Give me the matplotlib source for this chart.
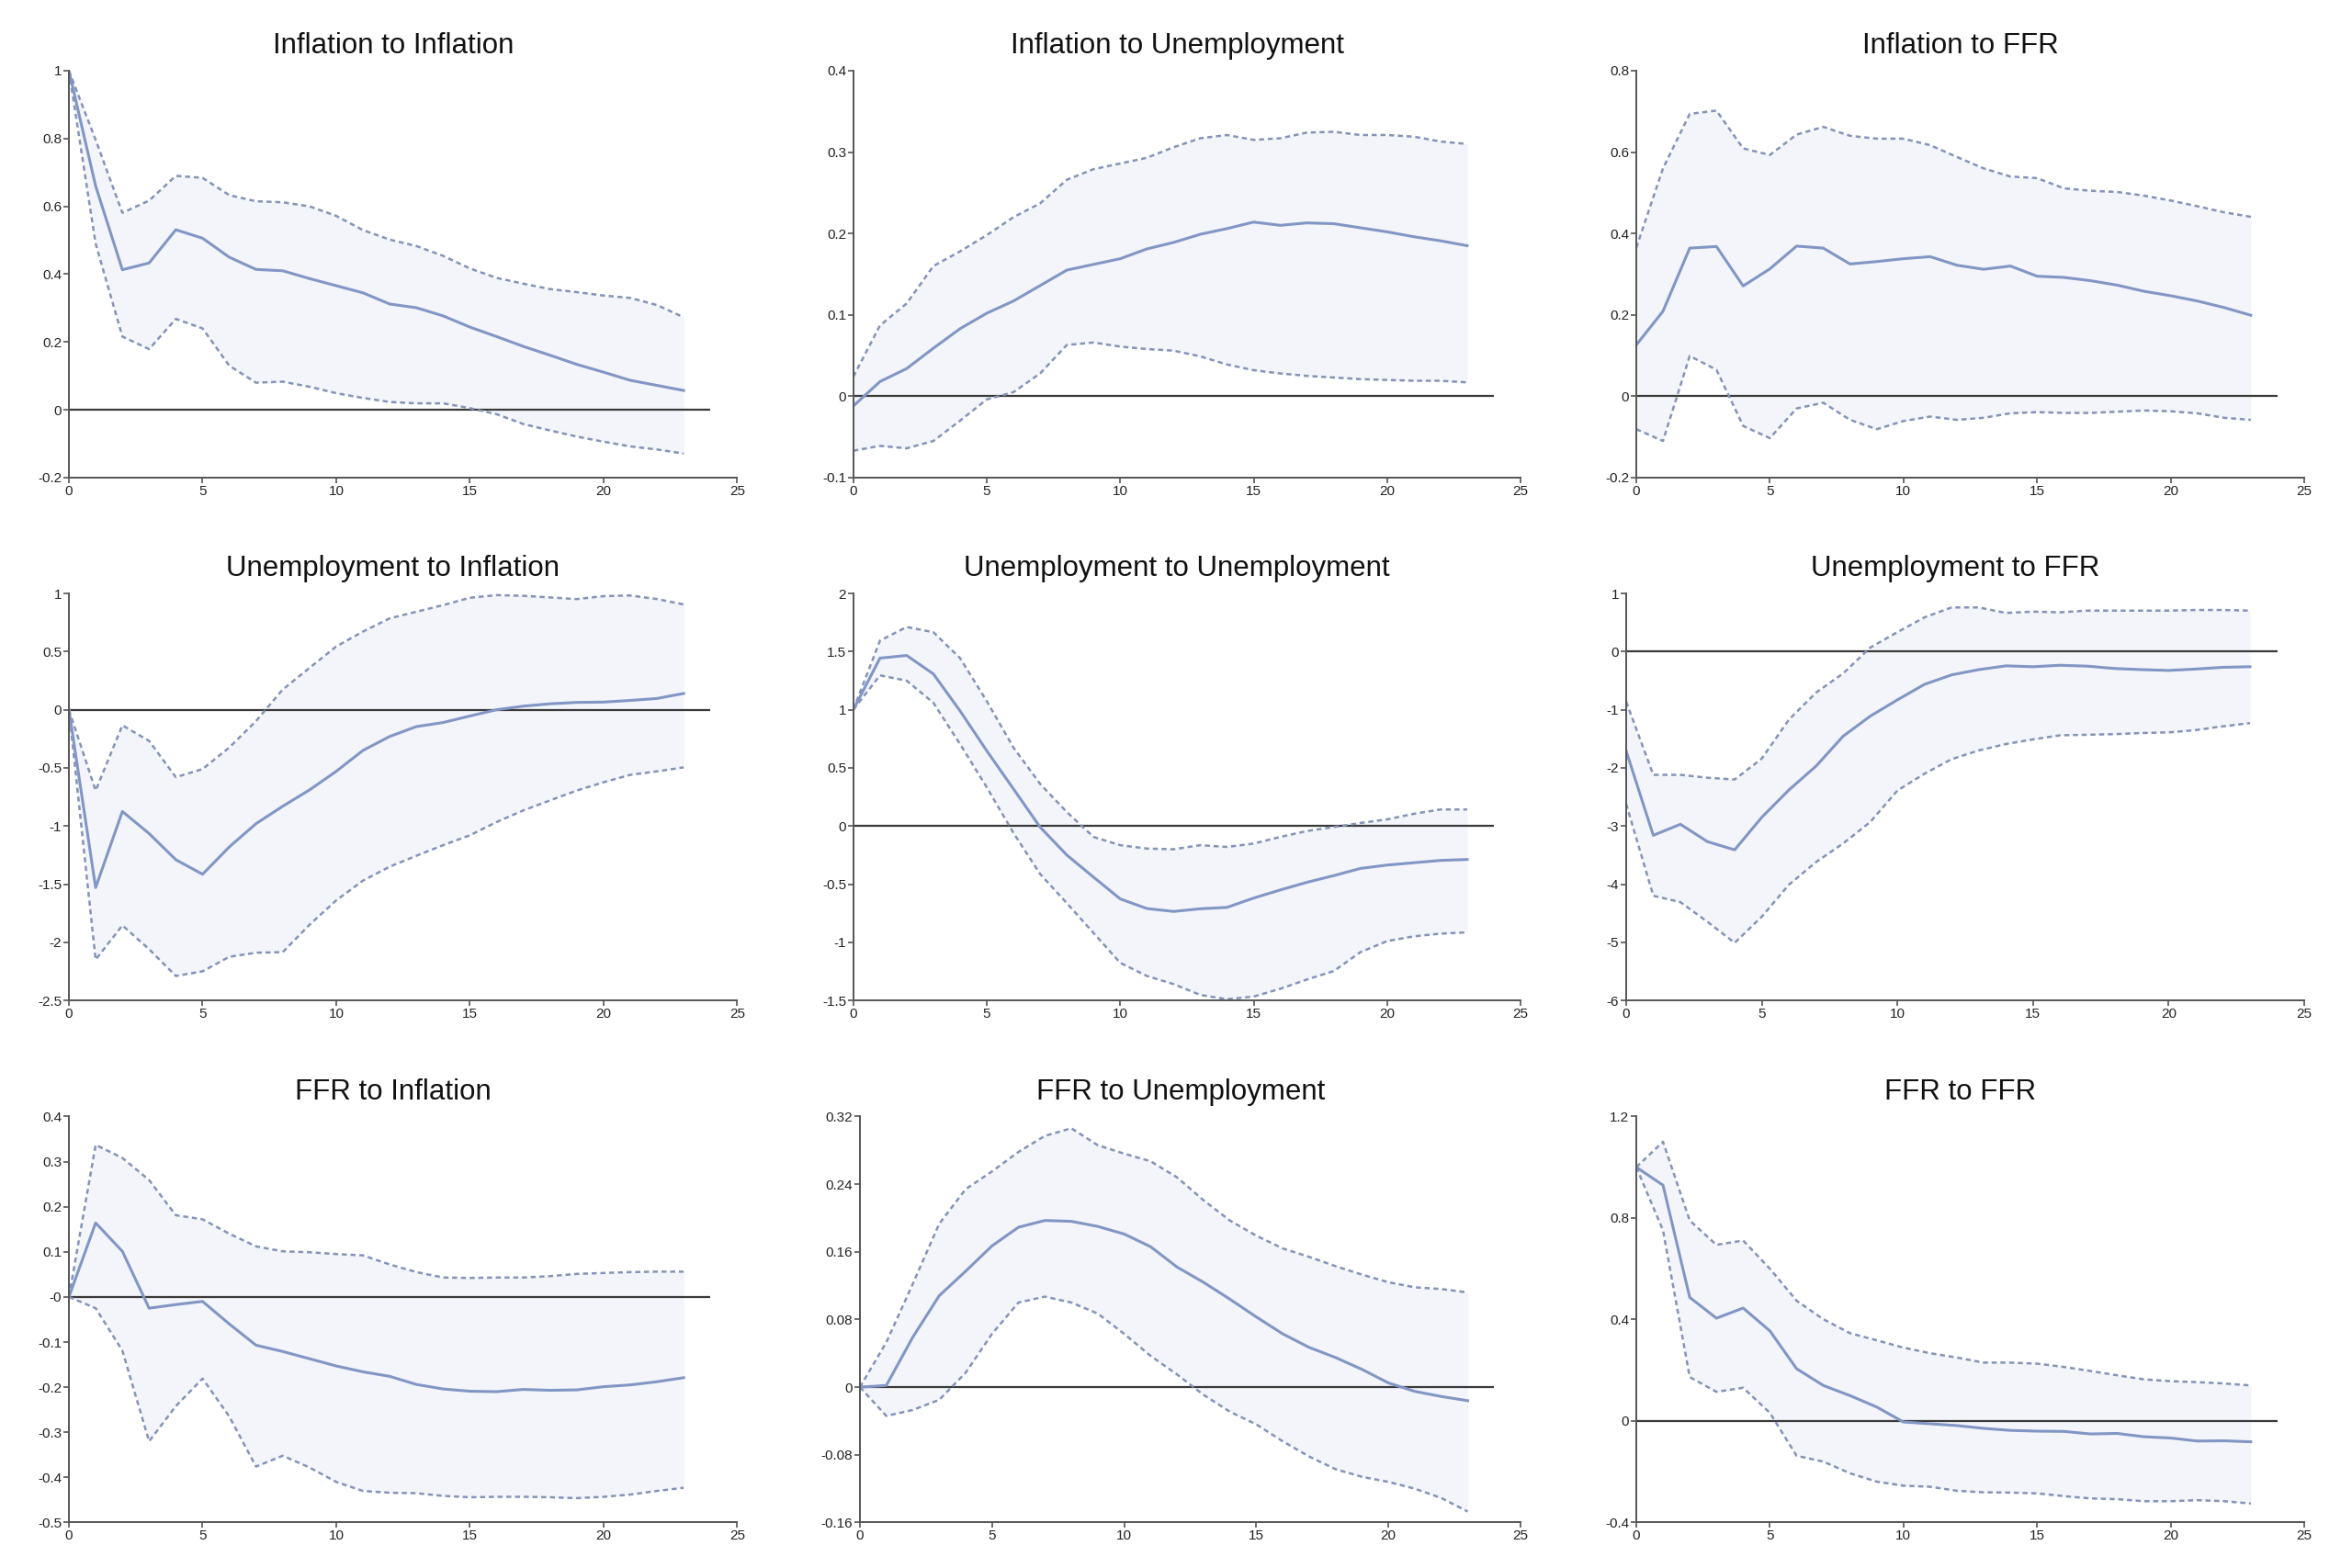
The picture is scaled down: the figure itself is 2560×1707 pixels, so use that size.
import numpy as np
import matplotlib
matplotlib.use("Agg")
import matplotlib.pyplot as plt
from matplotlib.ticker import FuncFormatter

plt.rcParams['font.family'] = ['Liberation Sans Narrow', 'Liberation Sans', 'DejaVu Sans']
plt.rcParams['axes.unicode_minus'] = False

steps = np.arange(24)
horizon = 24

titles = ["Inflation to Inflation", "Inflation to Unemployment", "Inflation to FFR",
          "Unemployment to Inflation", "Unemployment to Unemployment", "Unemployment to FFR",
          "FFR to Inflation", "FFR to Unemployment", "FFR to FFR"]

# impulse responses (mean, upper band, lower band)
inf_inf = [1.0, 0.66, 0.413, 0.433, 0.531, 0.506, 0.45, 0.414, 0.41, 0.387, 0.366, 0.345,
           0.312, 0.301, 0.277, 0.244, 0.216, 0.187, 0.161, 0.134, 0.111, 0.087, 0.072, 0.057]
inf_inf_hi = [1.0, 0.796, 0.581, 0.617, 0.69, 0.684, 0.633, 0.615, 0.612, 0.6, 0.572, 0.53,
              0.502, 0.483, 0.454, 0.417, 0.389, 0.372, 0.356, 0.347, 0.337, 0.33, 0.309, 0.273]
inf_inf_lo = [1.0, 0.49, 0.216, 0.179, 0.268, 0.24, 0.13, 0.08, 0.083, 0.068, 0.049, 0.035,
              0.023, 0.019, 0.019, 0.005, -0.013, -0.042, -0.061, -0.079, -0.094, -0.108, -0.117, -0.129]

inf_une = [-0.012, 0.018, 0.034, 0.059, 0.083, 0.102, 0.117, 0.136, 0.155, 0.162, 0.169, 0.181,
           0.189, 0.199, 0.206, 0.214, 0.21, 0.213, 0.212, 0.207, 0.202, 0.196, 0.191, 0.185]
inf_une_hi = [0.024, 0.087, 0.114, 0.16, 0.178, 0.198, 0.22, 0.237, 0.266, 0.279, 0.286, 0.293,
              0.306, 0.317, 0.321, 0.315, 0.317, 0.324, 0.325, 0.321, 0.321, 0.319, 0.313, 0.31]
inf_une_lo = [-0.067, -0.061, -0.064, -0.055, -0.03, -0.004, 0.005, 0.028, 0.063, 0.066, 0.061, 0.058,
              0.056, 0.049, 0.039, 0.032, 0.028, 0.025, 0.023, 0.021, 0.02, 0.019, 0.019, 0.017]

inf_ffr = [0.126, 0.209, 0.364, 0.368, 0.271, 0.313, 0.369, 0.364, 0.325, 0.331, 0.338, 0.343,
           0.322, 0.312, 0.32, 0.295, 0.292, 0.284, 0.273, 0.258, 0.247, 0.234, 0.218, 0.199]
inf_ffr_hi = [0.365, 0.56, 0.694, 0.702, 0.609, 0.593, 0.643, 0.662, 0.64, 0.633, 0.633, 0.617,
              0.588, 0.56, 0.54, 0.536, 0.511, 0.505, 0.502, 0.493, 0.481, 0.467, 0.452, 0.441]
inf_ffr_lo = [-0.081, -0.11, 0.099, 0.065, -0.073, -0.103, -0.03, -0.016, -0.058, -0.081, -0.061, -0.05,
              -0.058, -0.053, -0.042, -0.039, -0.041, -0.041, -0.038, -0.035, -0.037, -0.042, -0.053, -0.058]

une_inf = [0.0, -1.53, -0.875, -1.065, -1.29, -1.415, -1.18, -0.98, -0.83, -0.69, -0.53, -0.35,
           -0.23, -0.145, -0.11, -0.054, 0.0, 0.031, 0.051, 0.063, 0.066, 0.08, 0.097, 0.14]
une_inf_hi = [0.0, -0.695, -0.134, -0.268, -0.58, -0.51, -0.325, -0.097, 0.174, 0.36, 0.544, 0.672,
              0.786, 0.843, 0.9, 0.963, 0.986, 0.98, 0.966, 0.952, 0.977, 0.983, 0.952, 0.906]
une_inf_lo = [0.0, -2.15, -1.855, -2.06, -2.29, -2.25, -2.125, -2.09, -2.085, -1.85, -1.64, -1.47,
              -1.35, -1.256, -1.165, -1.08, -0.966, -0.866, -0.78, -0.695, -0.624, -0.56, -0.53, -0.496]

une_une = [1.0, 1.444, 1.467, 1.308, 0.99, 0.647, 0.319, -0.01, -0.25, -0.44, -0.627, -0.71,
           -0.735, -0.712, -0.7, -0.62, -0.55, -0.484, -0.427, -0.365, -0.336, -0.316, -0.296, -0.288]
une_une_hi = [1.0, 1.595, 1.712, 1.667, 1.444, 1.074, 0.675, 0.362, 0.12, -0.094, -0.165, -0.194,
              -0.2, -0.165, -0.18, -0.151, -0.094, -0.043, -0.009, 0.026, 0.057, 0.105, 0.142, 0.142]
une_une_lo = [1.0, 1.296, 1.25, 1.06, 0.704, 0.333, -0.06, -0.413, -0.664, -0.92, -1.177, -1.29,
              -1.36, -1.453, -1.49, -1.467, -1.4, -1.32, -1.248, -1.085, -0.99, -0.949, -0.926, -0.915]

une_ffr = [-1.71, -3.16, -2.97, -3.27, -3.41, -2.85, -2.38, -1.97, -1.455, -1.11, -0.83, -0.563,
           -0.4, -0.31, -0.245, -0.26, -0.235, -0.25, -0.29, -0.31, -0.324, -0.3, -0.27, -0.26]
une_ffr_hi = [-0.86, -2.12, -2.12, -2.17, -2.2, -1.84, -1.17, -0.705, -0.375, 0.07, 0.335, 0.59,
              0.76, 0.76, 0.665, 0.688, 0.677, 0.705, 0.705, 0.705, 0.705, 0.716, 0.716, 0.705]
une_ffr_lo = [-2.62, -4.2, -4.31, -4.65, -5.01, -4.56, -4.01, -3.62, -3.3, -2.93, -2.39, -2.1,
              -1.85, -1.7, -1.59, -1.51, -1.44, -1.43, -1.42, -1.4, -1.39, -1.35, -1.285, -1.23]

ffr_inf = [0.0, 0.164, 0.101, -0.025, -0.017, -0.01, -0.06, -0.107, -0.121, -0.137, -0.153, -0.166,
           -0.176, -0.194, -0.204, -0.209, -0.21, -0.205, -0.207, -0.206, -0.199, -0.195, -0.188, -0.179]
ffr_inf_hi = [0.0, 0.337, 0.308, 0.259, 0.181, 0.172, 0.14, 0.112, 0.101, 0.099, 0.095, 0.092,
              0.072, 0.055, 0.043, 0.042, 0.043, 0.043, 0.046, 0.051, 0.053, 0.055, 0.056, 0.056]
ffr_inf_lo = [0.0, -0.025, -0.119, -0.32, -0.242, -0.181, -0.265, -0.376, -0.352, -0.378, -0.41, -0.43,
              -0.434, -0.435, -0.441, -0.444, -0.443, -0.443, -0.444, -0.446, -0.443, -0.438, -0.43, -0.423]

ffr_une = [0.0, 0.002, 0.059, 0.108, 0.137, 0.167, 0.189, 0.197, 0.196, 0.19, 0.181, 0.166,
           0.142, 0.124, 0.104, 0.083, 0.063, 0.047, 0.035, 0.021, 0.005, -0.005, -0.011, -0.016]
ffr_une_hi = [0.0, 0.053, 0.122, 0.193, 0.234, 0.255, 0.278, 0.297, 0.306, 0.286, 0.276, 0.267,
              0.248, 0.221, 0.197, 0.179, 0.164, 0.154, 0.143, 0.133, 0.124, 0.118, 0.116, 0.112]
ffr_une_lo = [0.0, -0.034, -0.027, -0.015, 0.017, 0.063, 0.1, 0.107, 0.1, 0.087, 0.063, 0.037,
              0.015, -0.009, -0.029, -0.044, -0.064, -0.082, -0.097, -0.106, -0.112, -0.12, -0.131, -0.147]

ffr_ffr = [1.0, 0.929, 0.487, 0.405, 0.445, 0.355, 0.206, 0.14, 0.1, 0.055, -0.004, -0.011,
           -0.018, -0.029, -0.037, -0.04, -0.041, -0.051, -0.049, -0.062, -0.067, -0.079, -0.078, -0.082]
ffr_ffr_hi = [1.0, 1.1, 0.79, 0.694, 0.711, 0.6, 0.474, 0.401, 0.346, 0.318, 0.289, 0.267,
              0.25, 0.23, 0.23, 0.226, 0.213, 0.197, 0.18, 0.164, 0.157, 0.153, 0.148, 0.14]
ffr_ffr_lo = [1.0, 0.751, 0.173, 0.115, 0.131, 0.032, -0.137, -0.16, -0.206, -0.239, -0.255, -0.259,
              -0.275, -0.281, -0.282, -0.285, -0.296, -0.305, -0.308, -0.316, -0.316, -0.312, -0.316, -0.325]

y_ranges = [(-0.2, 1.0, 0.2), (-0.1, 0.4, 0.1), (-0.2, 0.8, 0.2),
            (-2.5, 1.0, 0.5), (-1.5, 2.0, 0.5), (-6, 1, 1),
            (-0.5, 0.4, 0.1), (-0.16, 0.32, 0.08), (-0.4, 1.2, 0.4)]

series = [(inf_inf, inf_inf_hi, inf_inf_lo), (inf_une, inf_une_hi, inf_une_lo), (inf_ffr, inf_ffr_hi, inf_ffr_lo),
          (une_inf, une_inf_hi, une_inf_lo), (une_une, une_une_hi, une_une_lo), (une_ffr, une_ffr_hi, une_ffr_lo),
          (ffr_inf, ffr_inf_hi, ffr_inf_lo), (ffr_une, ffr_une_hi, ffr_une_lo), (ffr_ffr, ffr_ffr_hi, ffr_ffr_lo)]

# layout in figure fractions
lefts = [0.0293, 0.3628, 0.6957, 0.0293, 0.3628, 0.6914, 0.0293, 0.3656, 0.6957]
rights = [0.3134, 0.6465, 0.9797]
rows = [(0.6954, 0.9549), (0.3620, 0.6215), (0.0290, 0.2880)]

line_col = '#8196c4'
band_col = '#8593b8'
fill_col = '#f3f5fa'

fig = plt.figure(figsize=(25.6, 17.07), dpi=100)

for k in range(9):
    r, c = divmod(k, 3)
    bottom, top = rows[r]
    ax = fig.add_axes([lefts[k], bottom, rights[c] - lefts[k], top - bottom])
    mean, hi, lo = series[k]

    ax.fill_between(steps, lo, hi, color=fill_col, lw=0)
    ax.hlines(0, 0, horizon, color='#3a3a3a', lw=1.6)
    ax.plot(steps, hi, color=band_col, lw=1.8, dashes=(2.2, 1.6))
    ax.plot(steps, lo, color=band_col, lw=1.8, dashes=(2.2, 1.6))
    ax.plot(steps, mean, color=line_col, lw=2.2)

    ymin, ymax, ystep = y_ranges[k]
    ax.set_ylim(ymin, ymax)
    ax.set_xlim(0, 25)
    ax.set_yticks(np.round(np.arange(ymin, ymax + ystep / 2, ystep), 4))
    ax.set_xticks([0, 5, 10, 15, 20, 25])
    ax.yaxis.set_major_formatter(FuncFormatter(lambda v, p: '{:g}'.format(round(v, 4))))

    for s in ['top', 'right']:
        ax.spines[s].set_visible(False)
    for s in ['left', 'bottom']:
        ax.spines[s].set_color('#555555')
        ax.spines[s].set_linewidth(1.4)
    ax.tick_params(direction='out', length=4, width=1.2, color='#555555',
                   labelsize=11, pad=1.5, labelcolor='#222222')
    ax.set_title(titles[k], fontsize=22.5, pad=13.5, x=0.485, color='#111111')

fig.savefig('out.png', dpi=100, facecolor='white')
